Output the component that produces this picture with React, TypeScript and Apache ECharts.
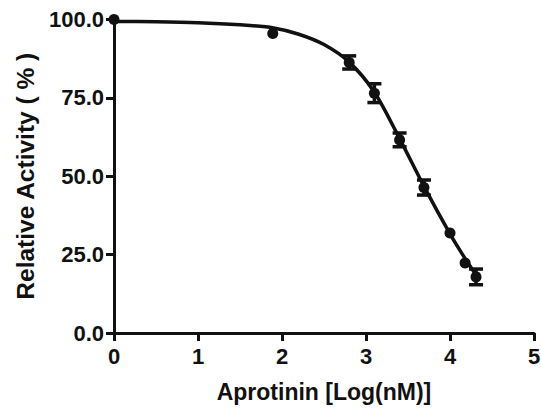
import React, { useEffect, useRef } from "react";
import * as echarts from "echarts";

// Measured points (log concentration, mean %, SEM)
const doseLog = [0, 1.89, 2.8, 3.1, 3.4, 3.69, 4.0, 4.18, 4.31];
const activity = [100, 95.5, 86.3, 76.5, 61.6, 46.4, 31.9, 22.3, 17.9];
const sem = [0, 0, 2.1, 3.0, 2.2, 2.4, 0, 0, 2.5];

// Fitted curve
const curveX = [0, 0.5, 1, 1.5, 1.9, 2.2, 2.5, 2.8, 3.1, 3.4, 3.7, 4.0, 4.15, 4.31];
const curveY = [99.4, 99.3, 99.0, 98.3, 97.3, 95.3, 92.0, 86.4, 76.8, 62.0, 46.3, 31.6, 25.0, 18.5];

const yTicks = [0, 25, 50, 75, 100];
const xTicks = [0, 1, 2, 3, 4, 5];

const FONT = "'Liberation Sans', Arial, Helvetica, sans-serif";

export default function App() {
  const ref = useRef<HTMLDivElement>(null);
  useEffect(() => {
    if (!ref.current) return;
    const chart = echarts.init(ref.current, null, { renderer: "svg" });
    const pts = doseLog.map((x, i) => [x, activity[i]]);
    const errs = doseLog.map((x, i) => [x, activity[i], sem[i]]).filter((d) => d[2] > 0);
    const curve = curveX.map((x, i) => [x, curveY[i]]);
    chart.setOption({
      animation: false,
      backgroundColor: "#ffffff",
      grid: { left: 114, right: 7, top: 19.5, bottom: 77, containLabel: false, outerBoundsMode: "none" },
      xAxis: {
        type: "value",
        min: xTicks[0],
        max: xTicks[xTicks.length - 1],
        interval: 1,
        name: "Aprotinin [Log(nM)]",
        nameLocation: "middle",
        nameGap: 47,
        nameTextStyle: { fontFamily: FONT, fontWeight: "bold", fontSize: 23, color: "#111" },
        axisLine: { show: true, onZero: false, lineStyle: { color: "#111", width: 3 } },
        axisTick: { show: true, length: 8, lineStyle: { color: "#111", width: 3 } },
        axisLabel: { fontFamily: FONT, fontWeight: "bold", fontSize: 22, color: "#111", margin: 12 },
        splitLine: { show: false },
      },
      yAxis: {
        type: "value",
        min: yTicks[0],
        max: yTicks[yTicks.length - 1],
        interval: 25,
        name: "Relative Activity ( % )",
        nameLocation: "middle",
        nameGap: 76,
        nameTextStyle: { fontFamily: FONT, fontWeight: "bold", fontSize: 24.5, color: "#111" },
        axisLine: { show: true, onZero: false, lineStyle: { color: "#111", width: 3 } },
        axisTick: { show: true, length: 8, lineStyle: { color: "#111", width: 3 } },
        axisLabel: {
          fontFamily: FONT,
          fontWeight: "bold",
          fontSize: 22,
          color: "#111",
          margin: 10,
          formatter: (v: number) => v.toFixed(1),
        },
        splitLine: { show: false },
      },
      series: [
        {
          type: "line",
          data: curve,
          smooth: 0.3,
          showSymbol: false,
          lineStyle: { color: "#111", width: 3.5 },
          z: 2,
        },
        {
          type: "custom",
          data: errs,
          z: 3,
          renderItem: (params: any, api: any) => {
            const x = api.value(0);
            const y = api.value(1);
            const e = api.value(2);
            const top = api.coord([x, y + e]);
            const bot = api.coord([x, y - e]);
            const hw = 7;
            const style = { stroke: "#111", lineWidth: 3.5 };
            return {
              type: "group",
              children: [
                { type: "line", shape: { x1: top[0], y1: top[1], x2: bot[0], y2: bot[1] }, style },
                { type: "line", shape: { x1: top[0] - hw, y1: top[1], x2: top[0] + hw, y2: top[1] }, style },
                { type: "line", shape: { x1: bot[0] - hw, y1: bot[1], x2: bot[0] + hw, y2: bot[1] }, style },
              ],
            };
          },
        },
        {
          type: "scatter",
          data: pts,
          symbol: "circle",
          symbolSize: 11,
          itemStyle: { color: "#111", opacity: 1 },
          z: 4,
        },
      ],
    });
    return () => chart.dispose();
  }, []);
  return (
    <div
      ref={ref}
      style={{ position: "fixed", left: 0, top: 0, width: 541, height: 410, background: "#fff" }}
    />
  );
}
